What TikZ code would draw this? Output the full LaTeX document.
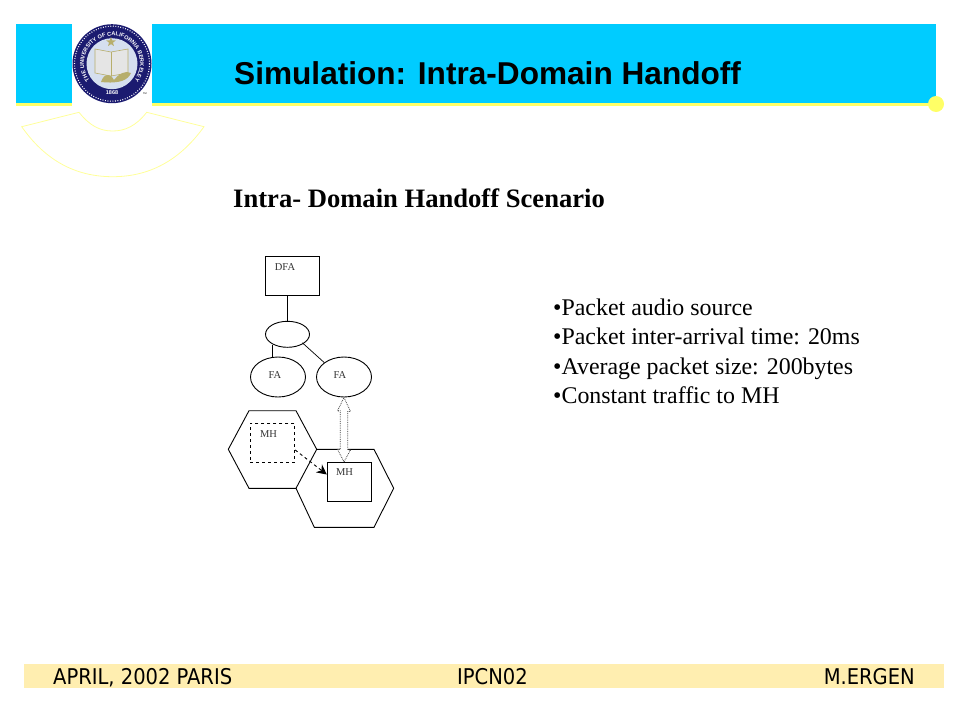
\documentclass[tikz,border=0pt]{standalone}
\usepackage{fontspec}
\setmainfont{Liberation Serif}
\newfontfamily\arialfont{Liberation Sans}
\newfontfamily\footfont{DejaVu Sans Condensed}
\usepackage{xcolor}
\usetikzlibrary{arrows.meta}
\usetikzlibrary{shapes.geometric}
\usetikzlibrary{decorations.text}
\definecolor{headblue}{HTML}{00CCFF}
\definecolor{headyellow}{HTML}{FFFF66}
\definecolor{fanyellow}{HTML}{FFFF99}
\definecolor{footyellow}{HTML}{FFEEB0}
\definecolor{sealblue}{HTML}{1B1B70}
\definecolor{sealpale}{HTML}{D5DFEF}
\definecolor{sealgold}{HTML}{B7AE6C}
\tikzset{
	main node/.style={ellipse,draw,line width=0.9pt,inner sep=0pt,minimum width=55pt,minimum height=40pt},
	box node/.style={rectangle,draw,line width=0.9pt,inner sep=0pt,minimum width=44.5pt,minimum height=39pt},
	small label/.style={font=\fontsize{10.5}{12}\selectfont,text=black!80,inner sep=0pt},
	cell/.style={line width=0.9pt,line join=miter},
	footer text/.style={font=\footfont\fontsize{21.7}{25}\selectfont,anchor=base west,inner sep=0pt}
}
\begin{document}
\begin{tikzpicture}[x=1pt,y=-1pt]
	\useasboundingbox (0,0) rectangle (960,720);
	\fill [headblue] (16,24) rectangle (936,103);
	\fill [headyellow] (16,103) rectangle (936,106);
	\fill [white] (72,24) rectangle (152,112);
	\fill [headyellow] (936,104) circle (8);
	\draw [fanyellow,line width=0.8pt] (79,112.3) .. controls (90,126) and (100,131) .. (112.7,131)
		.. controls (125,131) and (136,126) .. (146.7,112.3) -- (204,126.7)
		.. controls (180,160) and (150,176.7) .. (112.7,176.7)
		.. controls (75,176.7) and (45,160) .. (21.7,126.7) -- cycle;
	%seal
	\fill [sealblue] (112,63.7) circle (39.5);
	\draw [white,line width=1.1pt,dash pattern=on 0.9pt off 1.6pt] (112,63.7) circle (37.5);
	\fill [sealpale] (112,63.7) circle (25.5);
	\path [decorate,decoration={text along path,text align=center,
		text={|\arialfont\bfseries\fontsize{5.6}{7}\selectfont\color{white}|THE UNIVERSITY OF CALIFORNIA BERKELEY}}]
		(89.94,80.94) arc [start angle=142,end angle=398,radius=28];
	\node [star,star points=5,star point ratio=2.4,fill=sealgold,inner sep=0pt,minimum size=10pt] (sealstar) at (111,42) {};
	\fill [white!90!black,draw=sealgold,line width=0.6pt] (95,49) -- (111,52) -- (128,49) -- (128,73) -- (111,76) -- (95,73) -- cycle;
	\draw [sealgold,line width=0.6pt] (111,52) -- (111,76);
	\fill [sealgold] (101,82) .. controls (104,72) and (112,74) .. (114,80) .. controls (118,74) and (126,70) .. (131,73) .. controls (128,80) and (120,84) .. cycle;
	\node [font=\arialfont\bfseries\fontsize{5.5}{6}\selectfont,text=white,inner sep=0pt] (sealyear) at (112,92.5) {1868};
	\node [font=\arialfont\fontsize{2.5}{3}\selectfont,text=black,inner sep=0pt] (sealmark) at (145,94) {TM};
	%titles
	\node [font=\arialfont\bfseries\fontsize{31.6}{38}\selectfont,anchor=base west,inner sep=0pt] (title) at (234,84) {Simulation: Intra-Domain Handoff};
	\node [font=\bfseries\fontsize{26.6}{32}\selectfont,anchor=base west,inner sep=0pt] (scenario) at (233,207) {Intra- Domain Handoff Scenario};
	%network
	\node [box node,minimum width=54pt] (dfa) at (292.3,275.7) {};
	\node [small label] (dfalabel) at (285,267.5) {DFA};
	\node [main node,minimum width=44pt,minimum height=26pt] (hub) at (287.5,334.3) {};
	\node [main node] (fa1) at (278,377) {};
	\node [main node] (fa2) at (344,377) {};
	\node [small label] (fa1label) at (275,375) {FA};
	\node [small label] (fa2label) at (340,375) {FA};
	\coordinate (dfaout) at (287.5,295.2);
	\coordinate (hubleft) at (272.3,345);
	\draw [line width=0.9pt] (dfaout) -- (hub.north);
	\draw [line width=0.9pt] (hubleft) -- (hubleft |- fa1.north);
	\draw [line width=0.7pt] (hub.south east) ++(-1,-1) -- (fa2.north west);
	\draw [cell] (228.3,449.3) -- (249,410.7) -- (296,410.7) -- (316.7,449.3) -- (296,488.3) -- (249,488.3) -- cycle;
	\draw [cell] (316.7,449.3) -- (374,449.3) -- (393.7,488.3) -- (374,527.3) -- (314.3,527.3) -- (296,488.3);
	\node [box node,dashed] (mh1) at (272.5,442.7) {};
	\node [box node,fill=white] (mh2) at (349.5,481.8) {};
	\node [small label] (mh1label) at (268.5,434.5) {MH};
	\node [small label] (mh2label) at (344.5,472) {MH};
	\draw [dashed,line width=0.9pt,-{Stealth[length=10pt,width=10pt]}] (mh1.east |- 0,450) -- (mh2.west |- 0,474.5);
	\draw [draw=black!75,fill=white,densely dotted,line width=0.8pt] (fa2.south) -- ++(6.5,14) -- ++(-2.7,0) -- ++(0,38.5) -- ++(2.7,0)
		-- (fa2.south |- mh2.north) -- ++(-6.5,-12.5) -- ++(2.7,0) -- ++(0,-38.5) -- ++(-2.7,0) -- cycle;
	%bullets
	\node [font=\fontsize{23.9}{29.4}\selectfont,align=left,anchor=north west,inner sep=0pt] (bullets) at (553,298.5) {%
		•Packet audio source\\
		•Packet inter-arrival time: 20ms\\
		•Average packet size: 200bytes\\
		•Constant traffic to MH};
	%footer
	\fill [footyellow] (24,664) rectangle (944,688);
	\node [footer text] (footdate) at (53,684) {APRIL, 2002 PARIS};
	\node [footer text] (footconf) at (457,684) {IPCN02};
	\node [footer text,anchor=base east] (footname) at (915,684) {M.ERGEN};
\end{tikzpicture}
\end{document}
